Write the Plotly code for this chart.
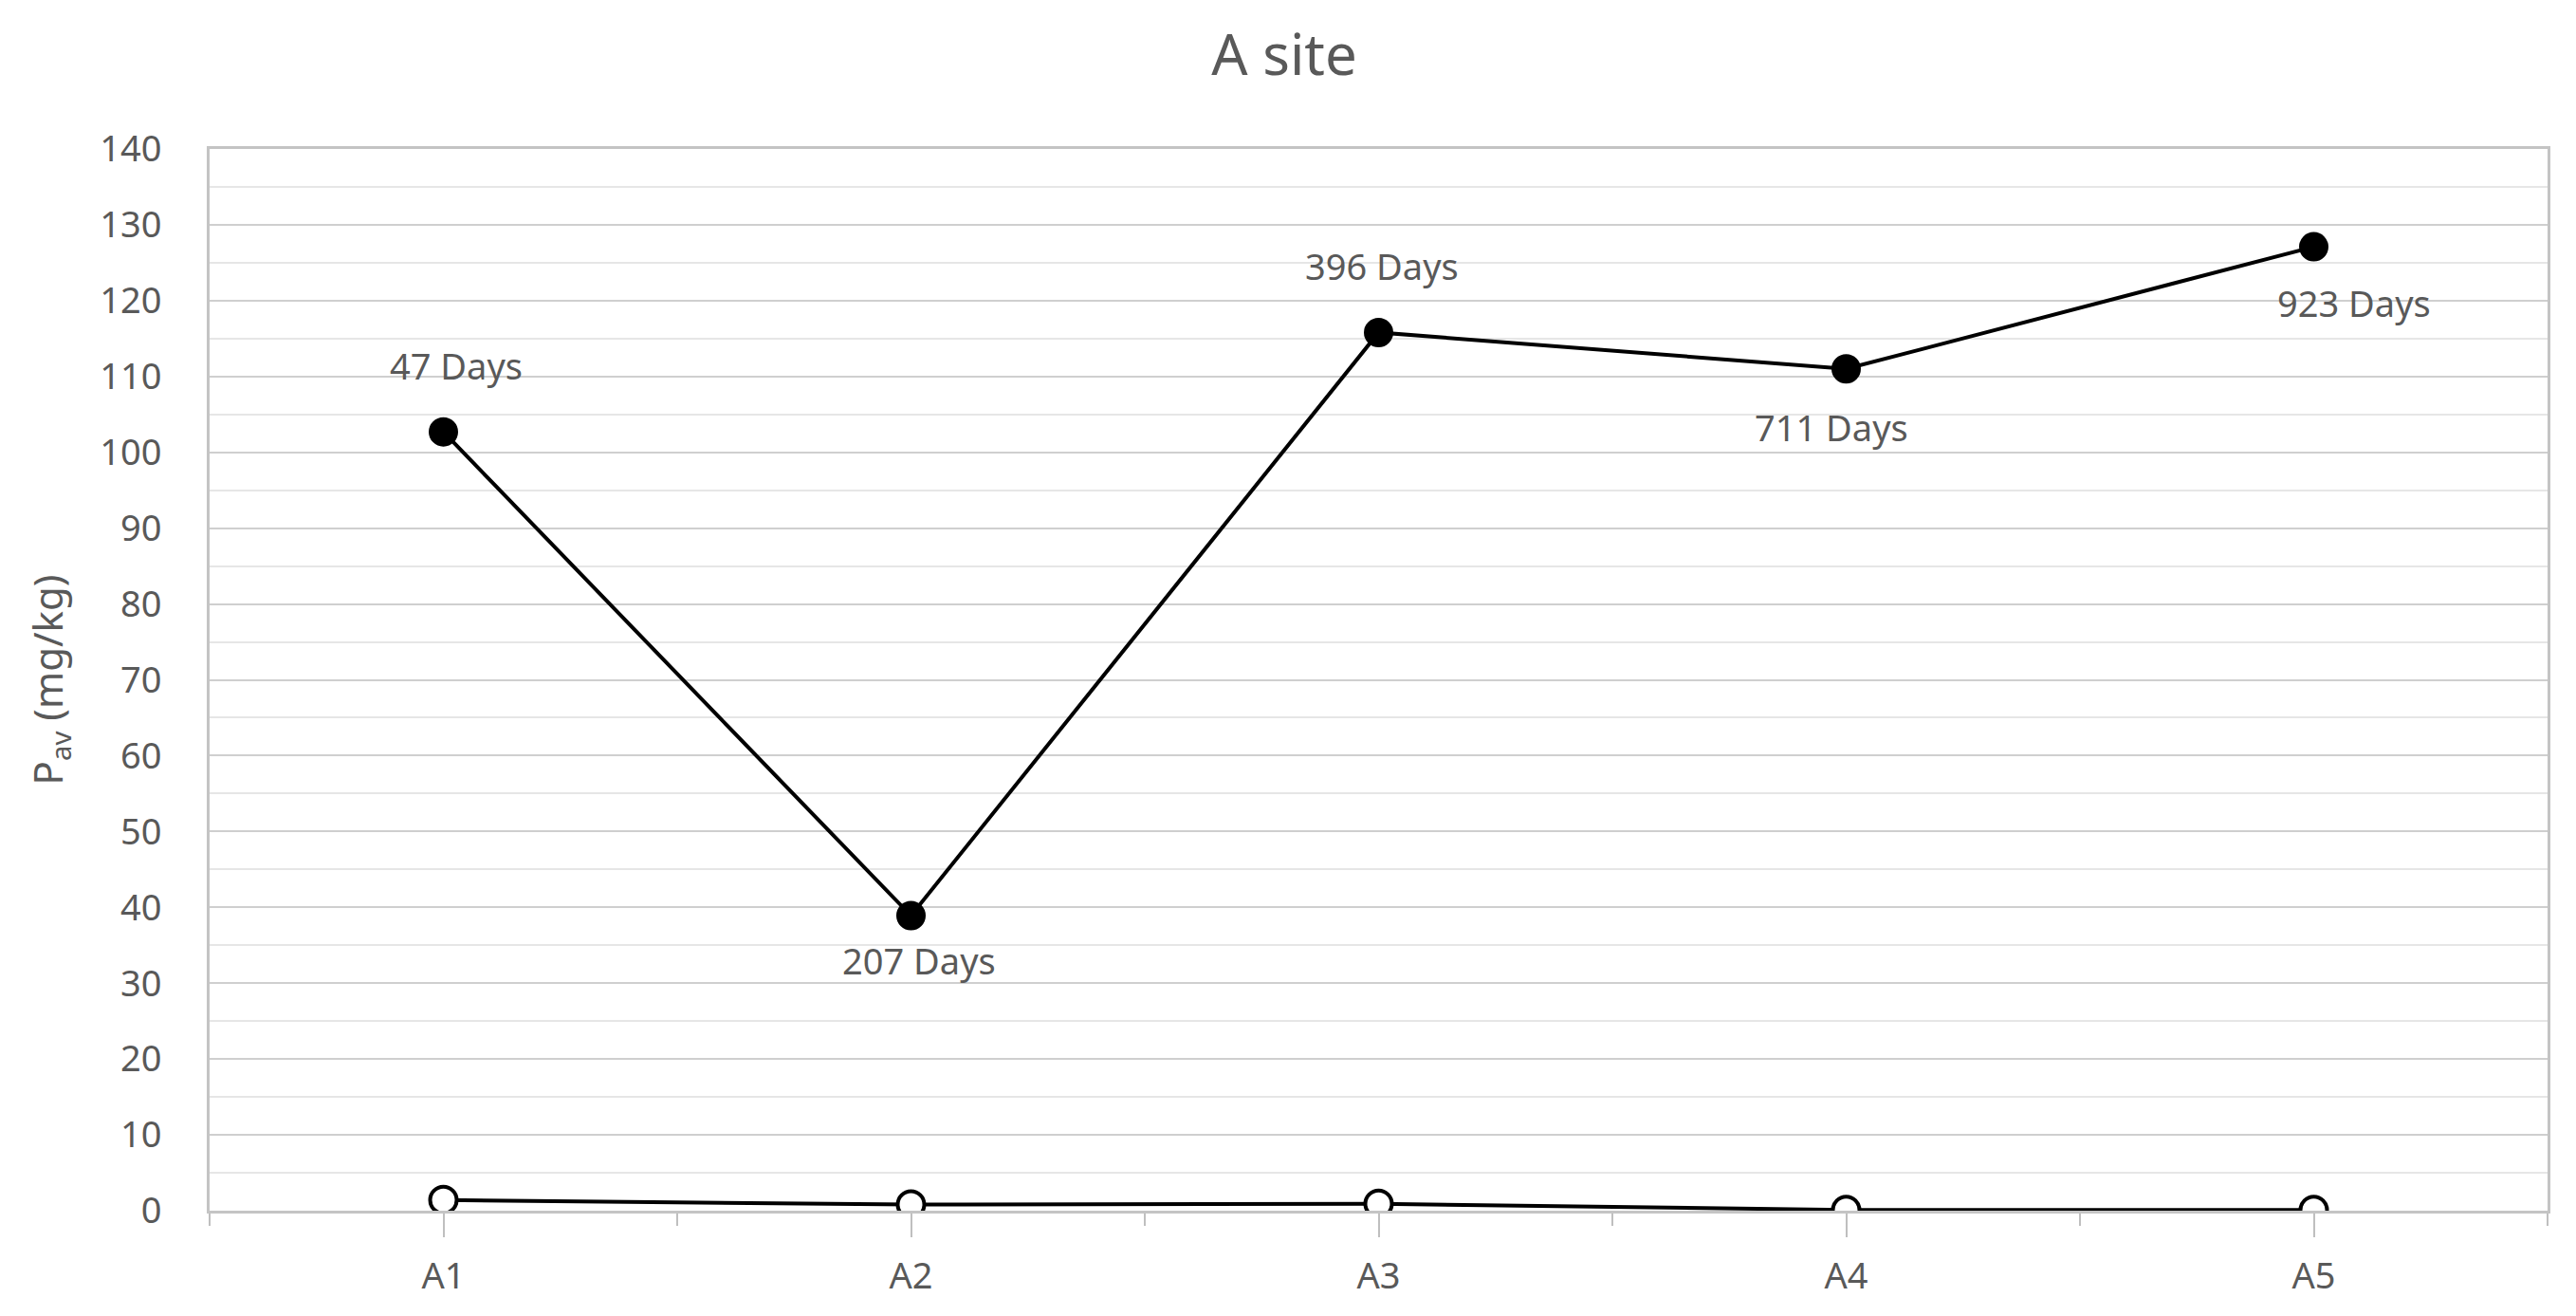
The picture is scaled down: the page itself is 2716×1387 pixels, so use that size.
import plotly.graph_objects as go

categories = ["A1", "A2", "A3", "A4", "A5"]
pav_values = [102.7, 38.9, 115.8, 111.0, 127.1]
second_values = [1.4, 0.8, 0.9, 0.1, 0.1]
day_labels = ["47 Days", "207 Days", "396 Days", "711 Days", "923 Days"]
label_shift_x = [13, 8, 3, -16, 42]
label_shift_y = [70, -47, 70, -61, -59]
y_ticks = list(range(0, 141, 10))

xpos = list(range(len(categories)))
FONT = "Noto Sans, Open Sans, sans-serif"
GRAY = "#595959"

fig = go.Figure()
fig.add_trace(go.Scatter(
    x=xpos, y=second_values, mode="lines+markers",
    line=dict(color="black", width=4),
    marker=dict(symbol="circle", size=28, color="white", line=dict(color="black", width=4)),
    showlegend=False, hoverinfo="skip"))
fig.add_trace(go.Scatter(
    x=xpos, y=pav_values, mode="lines+markers",
    line=dict(color="black", width=4),
    marker=dict(symbol="circle", size=28, color="black", line=dict(color="black", width=3)),
    showlegend=False, hoverinfo="skip"))

for xi, yi, txt, dx, dy in zip(xpos, pav_values, day_labels, label_shift_x, label_shift_y):
    fig.add_annotation(x=xi, y=yi, xref="x", yref="y", text=txt, showarrow=False,
                       xshift=dx, yshift=dy, font=dict(family=FONT, size=38, color=GRAY))

fig.update_layout(
    width=2716, height=1387,
    margin=dict(l=213, r=38, t=149, b=119, pad=0),
    paper_bgcolor="white", plot_bgcolor="white",
    title=dict(text="A site", x=0.4956, xref="container", xanchor="center",
               y=1 - 50 / 1387, yref="container", yanchor="middle",
               font=dict(family=FONT, size=60, color=GRAY)),
    xaxis=dict(
        range=[-0.5, 4.5], tickmode="array", tickvals=xpos, ticktext=categories,
        ticks="outside", ticklen=25, tickwidth=2, tickcolor="#bfbfbf",
        minor=dict(tick0=0.5, dtick=1, ticks="outside", ticklen=13, tickwidth=2,
                   tickcolor="#bfbfbf", showgrid=False),
        showgrid=False, zeroline=False, showline=True, mirror=True,
        linecolor="#c4c4c4", linewidth=3,
        tickfont=dict(family=FONT, size=38, color=GRAY), ticklabelstandoff=8),
    yaxis=dict(
        range=[0, 140], tickmode="array", tickvals=y_ticks,
        showgrid=True, gridcolor="#cfcfcf", gridwidth=2,
        minor=dict(dtick=5, tick0=0, showgrid=True, gridcolor="#e6e6e6", gridwidth=2),
        zeroline=False, showline=True, mirror=True, linecolor="#c4c4c4", linewidth=3,
        ticks="", tickfont=dict(family=FONT, size=38, color=GRAY), ticklabelstandoff=40,
        title=dict(text="P<sub>av</sub> (mg/kg)", standoff=26,
                   font=dict(family=FONT, size=42, color=GRAY))),
)

fig.write_html("out.html")
